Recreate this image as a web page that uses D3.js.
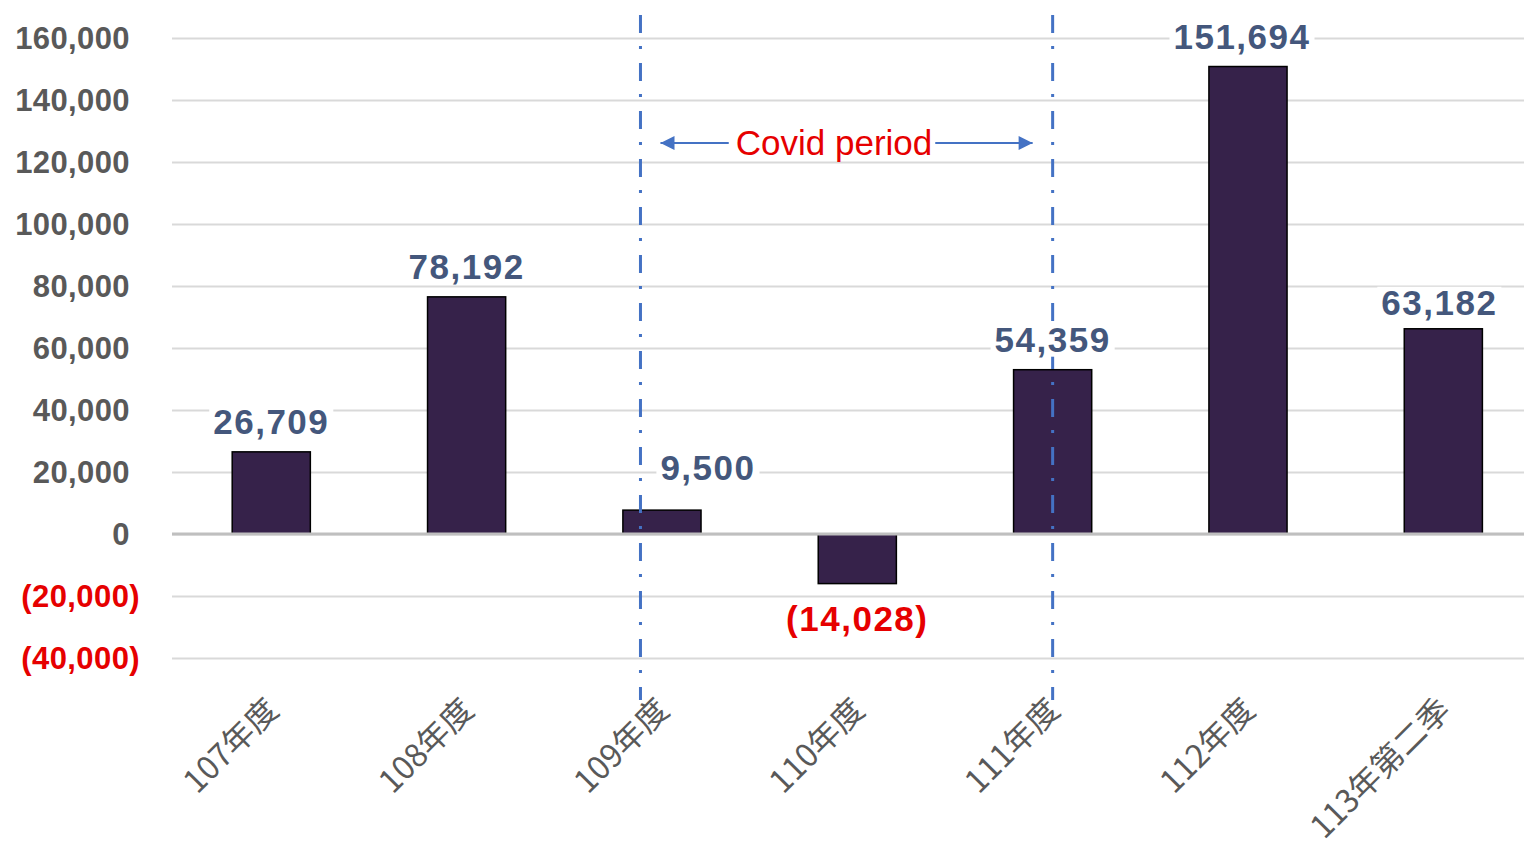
<!DOCTYPE html>
<html>
<head>
<meta charset="utf-8">
<script src="https://cdn.jsdelivr.net/npm/d3@7"></script>
<style>
    body { margin: 0; background: #fff; }
    #chart { display: block; }
</style>
</head>
<body>
<svg id="chart" width="1524" height="857"></svg>
<script>
// categories on the x axis
const categories = ["107年度", "108年度", "109年度", "110年度", "111年度", "112年度", "113年第二季"];
// bar heights as drawn in the picture
const barValues = [26500, 76500, 7700, -16000, 53000, 150800, 66200];
// numbers printed above / below each bar
const reported = [26709, 78192, 9500, -14028, 54359, 151694, 63182];
// y axis ticks
const yTicks = [-40000, -20000, 0, 20000, 40000, 60000, 80000, 100000, 120000, 140000, 160000];
// covid period, in category index units (109年度 .. 111年度)
const covidSpan = [1.89, 4.0];
const covidText = "Covid period";

function BarChart(){
    var self = this;
    self.init();
};

BarChart.prototype.init = function(){
    var self = this;
    self.svg = d3.select("#chart");
    self.width = 1524;
    self.height = 857;
    self.plotLeft = 172;

    self.xScale = d3.scaleBand()
        .domain(categories)
        .range([173.6, 1541])
        .paddingInner(0.6)
        .paddingOuter(0.3);

    self.yScale = d3.scaleLinear()
        .domain([-40000, 160000])
        .range([658, 38]);

    // accounting style: negatives in brackets
    self.fmt = d => d < 0 ? "(" + d3.format(",")(-d) + ")" : d3.format(",")(d);
};

BarChart.prototype.update = function(){
    var self = this;
    let svg = self.svg, x = self.xScale, y = self.yScale;
    let bw = x.bandwidth();

    //gridlines
    let grid = svg.append("g")
        .attr("transform", "translate(" + self.plotLeft + ",0)")
        .call(d3.axisLeft(y).tickValues(yTicks).tickSize(-(self.width - self.plotLeft)).tickFormat(""));
    grid.select(".domain").remove();
    grid.selectAll(".tick line")
        .attr("stroke", "#d9d9d9")
        .attr("stroke-width", 2);

    //y labels
    let yAxis = svg.append("g")
        .attr("transform", "translate(140,0)")
        .call(d3.axisLeft(y).tickValues(yTicks).tickSize(0).tickPadding(0).tickFormat(self.fmt));
    yAxis.select(".domain").remove();
    yAxis.selectAll("text")
        .attr("font-family", "Liberation Sans, Arial, sans-serif")
        .attr("font-weight", "bold")
        .attr("font-size", 31)
        .attr("letter-spacing", 0.4)
        .attr("dy", "0.35em")
        .attr("dx", d => d < 0 ? 0 : -10)
        .attr("fill", d => d < 0 ? "#e60000" : "#595959");

    //bars
    svg.selectAll(".bars")
        .data(barValues)
        .enter()
        .append("rect")
        .attr("class", "bars")
        .attr("x", (d, i) => x(categories[i]))
        .attr("y", d => y(Math.max(0, d)))
        .attr("width", bw)
        .attr("height", d => Math.abs(y(d) - y(0)))
        .attr("fill", "#36224a")
        .attr("stroke", "#000")
        .attr("stroke-width", 1.5);

    //zero line on top of bars
    svg.append("line")
        .attr("x1", self.plotLeft)
        .attr("x2", self.width)
        .attr("y1", y(0))
        .attr("y2", y(0))
        .attr("stroke", "#bfbfbf")
        .attr("stroke-width", 3);

    //x labels
    svg.selectAll(".xlab")
        .data(categories)
        .enter()
        .append("text")
        .attr("class", "xlab")
        .attr("text-anchor", "end")
        .attr("font-family", "Noto Sans CJK TC, sans-serif")
        .attr("font-size", 32)
        .attr("fill", "#595959")
        .attr("transform", d => "translate(" + (x(d) + bw / 2 + 9) + ",712) rotate(-45)")
        .text(d => d);

    //covid period lines
    let idx = d3.scaleLinear()
        .domain([0, categories.length - 1])
        .range([x(categories[0]) + bw / 2, x(categories[categories.length - 1]) + bw / 2]);
    svg.selectAll(".covid")
        .data(covidSpan)
        .enter()
        .append("line")
        .attr("class", "covid")
        .attr("x1", d => idx(d))
        .attr("x2", d => idx(d))
        .attr("y1", 15)
        .attr("y2", 700)
        .attr("stroke", "#4472c4")
        .attr("stroke-width", 3)
        .attr("stroke-dasharray", "18 13 3 14");

    //arrow + label
    svg.append("defs").append("marker")
        .attr("id", "head")
        .attr("viewBox", "0 0 10 10")
        .attr("refX", 10)
        .attr("refY", 5)
        .attr("markerWidth", 17)
        .attr("markerHeight", 14)
        .attr("markerUnits", "userSpaceOnUse")
        .attr("orient", "auto")
        .append("path")
        .attr("d", "M0,0L10,5L0,10z")
        .attr("fill", "#4472c4");

    let left = idx(covidSpan[0]) + 20, right = idx(covidSpan[1]) - 20;
    let label = svg.append("text")
        .attr("x", 834)
        .attr("y", 155)
        .attr("text-anchor", "middle")
        .attr("font-family", "Liberation Sans, Arial, sans-serif")
        .attr("font-size", 35)
        .attr("fill", "#e60000")
        .text(covidText);
    let tb = label.node().getBBox();
    [[tb.x - 7, left], [tb.x + tb.width + 3, right]].forEach(p => {
        svg.append("line")
            .attr("x1", p[0]).attr("x2", p[1])
            .attr("y1", 143).attr("y2", 143)
            .attr("stroke", "#4472c4")
            .attr("stroke-width", 2)
            .attr("marker-end", "url(#head)");
    });

    //value labels, with white box behind
    let nudge = {"109年度": [46, -12], "112年度": [-6, 0], "113年第二季": [-4, 4]};
    let dx = c => nudge[c] ? nudge[c][0] : 0;
    let dy = c => nudge[c] ? nudge[c][1] : 0;
    let vals = svg.selectAll(".vals")
        .data(reported)
        .enter()
        .append("g")
        .attr("class", "vals");
    vals.append("text")
        .attr("x", (d, i) => x(categories[i]) + bw / 2 + dx(categories[i]))
        .attr("y", (d, i) => barValues[i] < 0
            ? y(barValues[i]) + 47
            : y(barValues[i]) - 18 + dy(categories[i]))
        .attr("text-anchor", "middle")
        .attr("font-family", "Liberation Sans, Arial, sans-serif")
        .attr("font-weight", "bold")
        .attr("font-size", 35)
        .attr("letter-spacing", 1.5)
        .attr("fill", d => d < 0 ? "#e60000" : "#44577c")
        .text(d => self.fmt(d));
    vals.each(function(){
        let g = d3.select(this);
        let b = g.select("text").node().getBBox();
        g.insert("rect", "text")
            .attr("x", b.x - 4)
            .attr("y", b.y + 4)
            .attr("width", b.width + 8)
            .attr("height", b.height - 6)
            .attr("fill", "#fff");
    });
};

var chart = new BarChart();
chart.update();
</script>
</body>
</html>
